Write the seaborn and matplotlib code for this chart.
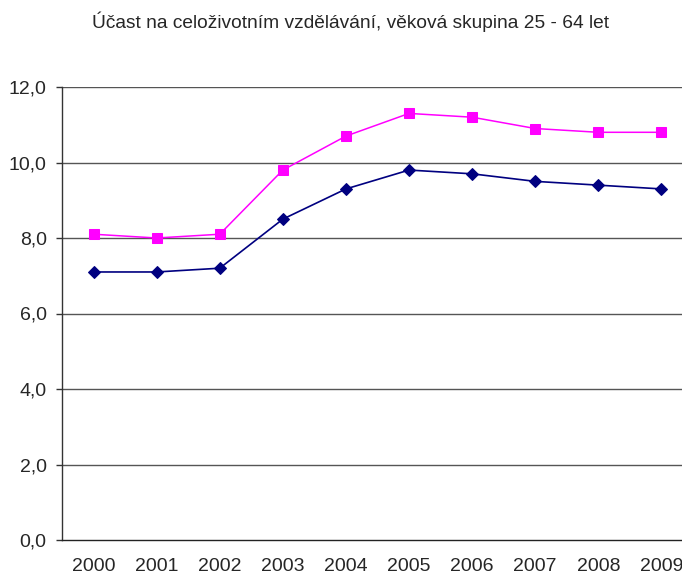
import matplotlib
matplotlib.use("Agg")
import matplotlib.pyplot as plt
import seaborn as sns
import pandas as pd
import numpy as np

years = ["2000", "2001", "2002", "2003", "2004", "2005", "2006", "2007", "2008", "2009"]
navy_vals = [7.1, 7.1, 7.2, 8.5, 9.3, 9.8, 9.7, 9.5, 9.4, 9.3]
pink_vals = [8.1, 8.0, 8.1, 9.8, 10.7, 11.3, 11.2, 10.9, 10.8, 10.8]
y_ticks = [0, 2, 4, 6, 8, 10, 12]
title = "Účast na celoživotním vzdělávání, věková skupina 25 - 64 let"

sns.set_style("white")
plt.rcParams['font.family'] = ['Liberation Sans', 'DejaVu Sans']

df = pd.DataFrame({"year": years, "navy": navy_vals, "pink": pink_vals})

fig = plt.figure(figsize=(6.82, 5.76), dpi=100)
ax = fig.add_axes([62/682, 1 - 540/576, 631/682, 453/576])

sns.lineplot(data=df, x="year", y="pink", ax=ax, color="#FF00FF", marker="s",
             markersize=6.5, markeredgecolor="#FF00FF", linewidth=1.1, sort=False)
sns.lineplot(data=df, x="year", y="navy", ax=ax, color="#000080", marker="D",
             markersize=6.5, markeredgecolor="#000080", linewidth=1.2, sort=False)

ax.set_xlim(-0.5, len(years) - 0.5)
ax.set_ylim(0, 12)
ax.set_yticks(y_ticks)
ax.set_yticklabels([f"{v:.1f}".replace(".", ",") for v in y_ticks], fontsize=14)
ax.set_xticks(range(len(years)))
ax.set_xticklabels(years, fontsize=14)
ax.set_xticks(np.arange(0.5, len(years) - 0.5, 1), minor=True)
ax.tick_params(axis="x", which="major", length=0, pad=13)
ax.tick_params(axis="x", which="minor", length=4, width=1, color="#333333", direction="out")
ax.tick_params(axis="y", length=4, width=1, color="#333333", direction="out", left=True, pad=7)
ax.set_xlabel("")
ax.set_ylabel("")

for v in y_ticks[1:]:
    ax.axhline(v, color="#555555", linewidth=1.0, zorder=0)

for s in ["top", "right"]:
    ax.spines[s].set_visible(False)
ax.spines["left"].set_color("#333333")
ax.spines["bottom"].set_color("#222222")
ax.spines["left"].set_linewidth(1)
ax.spines["bottom"].set_linewidth(1)

fig.text(350/682, 1 - 22/576, title, ha="center", va="center", fontsize=13.8)

fig.savefig("out.png", dpi=100)
